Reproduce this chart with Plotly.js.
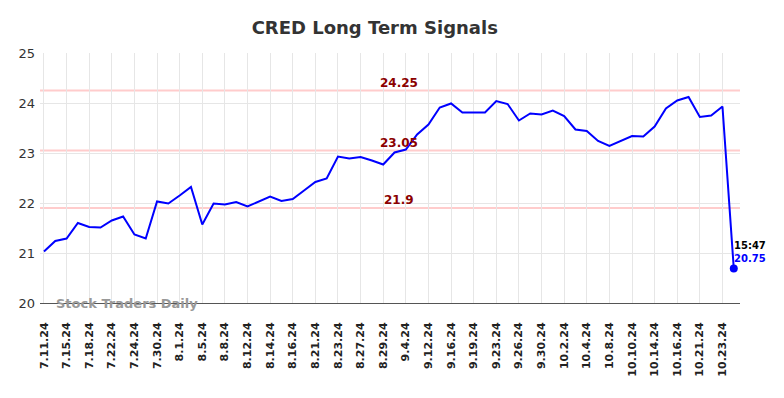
<!DOCTYPE html>
<html>
<head>
<meta charset="utf-8">
<script src="https://cdn.plot.ly/plotly-3.0.1.min.js"></script>
<style>html,body{margin:0;padding:0;background:#fff;}#chart{width:784px;height:398px;}</style>
</head>
<body>
<div id="chart"></div>
<script>
const dates = [
  "7.11.24","7.12.24","7.15.24","7.16.24","7.18.24","7.19.24","7.22.24","7.23.24","7.24.24","7.26.24",
  "7.30.24","7.31.24","8.1.24","8.2.24","8.5.24","8.6.24","8.8.24","8.9.24","8.12.24","8.13.24",
  "8.14.24","8.15.24","8.16.24","8.20.24","8.21.24","8.22.24","8.23.24","8.26.24","8.27.24","8.28.24",
  "8.29.24","8.30.24","9.4.24","9.10.24","9.12.24","9.13.24","9.16.24","9.18.24","9.19.24","9.20.24",
  "9.23.24","9.24.24","9.26.24","9.27.24","9.30.24","10.1.24","10.2.24","10.3.24","10.4.24","10.7.24",
  "10.8.24","10.9.24","10.10.24","10.11.24","10.14.24","10.15.24","10.16.24","10.18.24","10.21.24","10.22.24",
  "10.23.24","10.24.24"
];
const prices = [
  21.03,21.24,21.29,21.60,21.52,21.51,21.65,21.73,21.37,21.29,
  22.03,21.99,22.15,22.32,21.57,21.99,21.97,22.02,21.93,22.03,
  22.13,22.04,22.08,22.25,22.42,22.49,22.93,22.89,22.92,22.85,
  22.77,23.01,23.07,23.37,23.57,23.91,23.99,23.81,23.81,23.81,
  24.04,23.98,23.65,23.79,23.77,23.85,23.74,23.47,23.44,23.24,
  23.14,23.24,23.34,23.33,23.53,23.89,24.05,24.12,23.72,23.75,
  23.93,20.69
];
const tickLabels = dates.filter((d,i)=>i%2===0 && i<61);
const levels = [24.25, 23.05, 21.9];
const levelLabels = ["24.25", "23.05", "21.9"];
const lastTime = "15:47";
const lastPriceLabel = "20.75";
const title = "CRED Long Term Signals";
const watermark = "Stock Traders Daily";

const n = dates.length;
const lastX = dates[n-1], lastY = prices[n-1];
const midCat = dates[32];

const traces = [
  {x: dates, y: prices, type: "scatter", mode: "lines",
   line: {color: "#0000ff", width: 2}, hoverinfo: "x+y", showlegend: false},
  {x: [lastX], y: [lastY], type: "scatter", mode: "markers",
   marker: {color: "#0000ff", size: 8}, showlegend: false, hoverinfo: "skip"}
];

const shapes = levels.map(v => ({
  type: "line", xref: "paper", x0: 0, x1: 1, yref: "y", y0: v, y1: v,
  line: {color: "#ffcccc", width: 2}, layer: "below"
}));

const annotations = levels.map((v,i) => ({
  x: midCat, y: v, xref: "x", yref: "y", text: levelLabels[i], showarrow: false,
  yshift: 8, xshift: -7,
  font: {family: "DejaVu Sans", size: 12, color: "#8b0000", weight: "bold"}
}));
annotations.push({x: lastX, y: lastY, xref: "x", yref: "y", text: lastTime, showarrow: false,
  xanchor: "left", xshift: -2, yshift: 23, font: {family: "DejaVu Sans", size: 10, color: "#000", weight: "bold"}});
annotations.push({x: lastX, y: lastY, xref: "x", yref: "y", text: lastPriceLabel, showarrow: false,
  xanchor: "left", xshift: -2, yshift: 10, font: {family: "DejaVu Sans", size: 10, color: "#0000ff", weight: "bold"}});
annotations.push({x: 0.02, y: 20, xref: "paper", yref: "y", text: watermark, showarrow: false,
  xanchor: "left", yanchor: "middle", font: {family: "DejaVu Sans", size: 13, color: "#999999", weight: "bold"}});

const layout = {
  width: 784, height: 398,
  margin: {l: 40, r: 44, t: 53, b: 95},
  paper_bgcolor: "#fff", plot_bgcolor: "#fff",
  title: {text: title, x: 0.478, xanchor: "center", y: 0.93, yanchor: "middle",
    font: {family: "DejaVu Sans", size: 18, color: "#333333", weight: "bold"}},
  xaxis: {type: "category", categoryorder: "array", categoryarray: dates,
    range: [-0.35, 61.55], tickmode: "array", tickvals: tickLabels, ticktext: tickLabels,
    tickangle: -90, showgrid: true, gridcolor: "#e6e6e6", gridwidth: 1,
    showline: true, linecolor: "#555", linewidth: 1, zeroline: false, ticks: "",
    ticklabelstandoff: 14,
    tickfont: {family: "DejaVu Sans", size: 11, color: "#222", weight: "bold"}},
  yaxis: {range: [20, 25], tickvals: [20,21,22,23,24,25], showgrid: true, gridcolor: "#e6e6e6",
    zeroline: false, showline: false, ticks: "", ticklabelstandoff: 4,
    tickfont: {family: "DejaVu Sans", size: 13, color: "#333"}},
  shapes: shapes, annotations: annotations, hovermode: false
};

Plotly.newPlot("chart", traces, layout, {displayModeBar: false, staticPlot: true});
</script>
</body>
</html>
